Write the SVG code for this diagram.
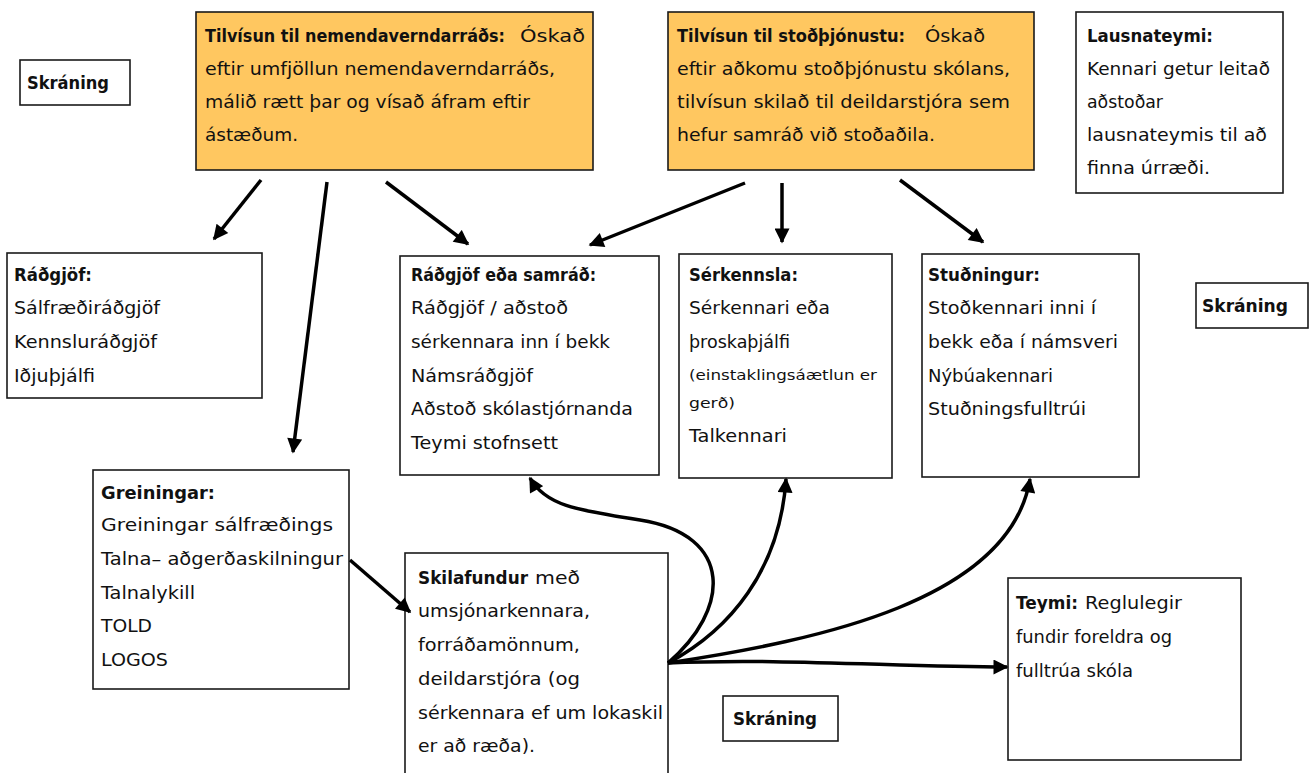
<svg xmlns="http://www.w3.org/2000/svg" width="1310" height="773" viewBox="0 0 1310 773">
<style>
.box{fill:#fff;stroke:#1a1a1a;stroke-width:1.6}
.org{fill:#FFC760;stroke:#1a1a1a;stroke-width:1.6}
text{font-family:"DejaVu Sans","Liberation Sans",sans-serif;font-size:17px;fill:#111}
.b{font-weight:bold}
.sm{font-size:14px}
.c{fill:none;stroke:#000;stroke-width:3.5;marker-end:url(#ah)}
</style>
<defs>
<marker id="ah" viewBox="0 0 10 10" refX="9" refY="5" markerWidth="17" markerHeight="15" markerUnits="userSpaceOnUse" orient="auto"><path d="M0,0 L10,5 L0,10 z" fill="#000"/></marker>
</defs>
<g id="skraning1"><rect class="box" x="20" y="60" width="110" height="45"/><text class="b" x="27" y="89" textLength="82" lengthAdjust="spacingAndGlyphs">Skráning</text></g>
<g id="tilvisun-nvr"><rect class="org" x="196" y="12" width="397" height="158"/>
<text class="b" x="205" y="42" textLength="300" lengthAdjust="spacingAndGlyphs">Tilvísun til nemendaverndarráðs:</text>
<text x="520" y="42" textLength="65" lengthAdjust="spacingAndGlyphs">Óskað</text>
<text x="205" y="75" textLength="350" lengthAdjust="spacingAndGlyphs">eftir umfjöllun nemendaverndarráðs,</text>
<text x="205" y="108" textLength="325" lengthAdjust="spacingAndGlyphs">málið rætt þar og vísað áfram eftir</text>
<text x="205" y="141" textLength="93" lengthAdjust="spacingAndGlyphs">ástæðum.</text></g>
<g id="tilvisun-stod"><rect class="org" x="668" y="12" width="366" height="158"/>
<text class="b" x="677" y="42" textLength="228" lengthAdjust="spacingAndGlyphs">Tilvísun til stoðþjónustu:</text>
<text x="925" y="42" textLength="60" lengthAdjust="spacingAndGlyphs">Óskað</text>
<text x="677" y="75" textLength="333" lengthAdjust="spacingAndGlyphs">eftir aðkomu stoðþjónustu skólans,</text>
<text x="677" y="108" textLength="333" lengthAdjust="spacingAndGlyphs">tilvísun skilað til deildarstjóra sem</text>
<text x="677" y="141" textLength="258" lengthAdjust="spacingAndGlyphs">hefur samráð við stoðaðila.</text></g>
<g id="lausnateymi"><rect class="box" x="1076" y="12" width="207" height="181"/>
<text class="b" x="1087" y="42" textLength="126" lengthAdjust="spacingAndGlyphs">Lausnateymi:</text>
<text x="1087" y="75" textLength="183" lengthAdjust="spacingAndGlyphs">Kennari getur leitað</text>
<text x="1087" y="108" textLength="76" lengthAdjust="spacingAndGlyphs">aðstoðar</text>
<text x="1087" y="141" textLength="180" lengthAdjust="spacingAndGlyphs">lausnateymis til að</text>
<text x="1087" y="174" textLength="123" lengthAdjust="spacingAndGlyphs">finna úrræði.</text></g>
<g id="radgjof"><rect class="box" x="7" y="253" width="255" height="145"/>
<text class="b" x="14" y="281" textLength="78" lengthAdjust="spacingAndGlyphs">Ráðgjöf:</text>
<text x="14" y="314" textLength="146" lengthAdjust="spacingAndGlyphs">Sálfræðiráðgjöf</text>
<text x="14" y="348" textLength="143" lengthAdjust="spacingAndGlyphs">Kennsluráðgjöf</text>
<text x="14" y="382" textLength="81" lengthAdjust="spacingAndGlyphs">Iðjuþjálfi</text></g>
<g id="radgjof-samrad"><rect class="box" x="400" y="256" width="259" height="219"/>
<text class="b" x="411" y="281" textLength="185" lengthAdjust="spacingAndGlyphs">Ráðgjöf eða samráð:</text>
<text x="411" y="314" textLength="157" lengthAdjust="spacingAndGlyphs">Ráðgjöf / aðstoð</text>
<text x="411" y="348" textLength="199" lengthAdjust="spacingAndGlyphs">sérkennara inn í bekk</text>
<text x="411" y="382" textLength="122" lengthAdjust="spacingAndGlyphs">Námsráðgjöf</text>
<text x="411" y="415" textLength="222" lengthAdjust="spacingAndGlyphs">Aðstoð skólastjórnanda</text>
<text x="411" y="449" textLength="147" lengthAdjust="spacingAndGlyphs">Teymi stofnsett</text></g>
<g id="serkennsla"><rect class="box" x="679" y="254" width="213" height="224"/>
<text class="b" x="689" y="281" textLength="109" lengthAdjust="spacingAndGlyphs">Sérkennsla:</text>
<text x="689" y="314" textLength="141" lengthAdjust="spacingAndGlyphs">Sérkennari eða</text>
<text x="689" y="348" textLength="101" lengthAdjust="spacingAndGlyphs">þroskaþjálfi</text>
<text class="sm" x="689" y="380" textLength="188" lengthAdjust="spacingAndGlyphs">(einstaklingsáætlun er</text>
<text class="sm" x="689" y="408" textLength="46" lengthAdjust="spacingAndGlyphs">gerð)</text>
<text x="689" y="442" textLength="98" lengthAdjust="spacingAndGlyphs">Talkennari</text></g>
<g id="studningur"><rect class="box" x="922" y="254" width="217" height="223"/>
<text class="b" x="928" y="281" textLength="112" lengthAdjust="spacingAndGlyphs">Stuðningur:</text>
<text x="928" y="314" textLength="168" lengthAdjust="spacingAndGlyphs">Stoðkennari inni í</text>
<text x="928" y="348" textLength="190" lengthAdjust="spacingAndGlyphs">bekk eða í námsveri</text>
<text x="928" y="382" textLength="125" lengthAdjust="spacingAndGlyphs">Nýbúakennari</text>
<text x="928" y="415" textLength="158" lengthAdjust="spacingAndGlyphs">Stuðningsfulltrúi</text></g>
<g id="skraning2"><rect class="box" x="1196" y="283" width="112" height="45"/><text class="b" x="1202" y="312" textLength="86" lengthAdjust="spacingAndGlyphs">Skráning</text></g>
<g id="greiningar"><rect class="box" x="93" y="470" width="256" height="219"/>
<text class="b" x="101" y="499" textLength="114" lengthAdjust="spacingAndGlyphs">Greiningar:</text>
<text x="101" y="531" textLength="232" lengthAdjust="spacingAndGlyphs">Greiningar sálfræðings</text>
<text x="101" y="565" textLength="242" lengthAdjust="spacingAndGlyphs">Talna– aðgerðaskilningur</text>
<text x="101" y="599" textLength="94" lengthAdjust="spacingAndGlyphs">Talnalykill</text>
<text x="101" y="632" textLength="51" lengthAdjust="spacingAndGlyphs">TOLD</text>
<text x="101" y="666" textLength="67" lengthAdjust="spacingAndGlyphs">LOGOS</text></g>
<g id="skilafundur"><rect class="box" x="405" y="553" width="263" height="230"/>
<text class="b" x="418" y="584" textLength="110" lengthAdjust="spacingAndGlyphs">Skilafundur</text>
<text x="535" y="584" textLength="45" lengthAdjust="spacingAndGlyphs">með</text>
<text x="418" y="617" textLength="172" lengthAdjust="spacingAndGlyphs">umsjónarkennara,</text>
<text x="418" y="651" textLength="162" lengthAdjust="spacingAndGlyphs">forráðamönnum,</text>
<text x="418" y="685" textLength="162" lengthAdjust="spacingAndGlyphs">deildarstjóra (og</text>
<text x="418" y="719" textLength="245" lengthAdjust="spacingAndGlyphs">sérkennara ef um lokaskil</text>
<text x="418" y="752" textLength="117" lengthAdjust="spacingAndGlyphs">er að ræða).</text></g>
<g id="skraning3"><rect class="box" x="723" y="696" width="115" height="45"/><text class="b" x="733" y="725" textLength="84" lengthAdjust="spacingAndGlyphs">Skráning</text></g>
<g id="teymi"><rect class="box" x="1008" y="578" width="233" height="182"/>
<text class="b" x="1016" y="609" textLength="62" lengthAdjust="spacingAndGlyphs">Teymi:</text>
<text x="1085" y="609" textLength="97" lengthAdjust="spacingAndGlyphs">Reglulegir</text>
<text x="1016" y="643" textLength="156" lengthAdjust="spacingAndGlyphs">fundir foreldra og</text>
<text x="1016" y="677" textLength="117" lengthAdjust="spacingAndGlyphs">fulltrúa skóla</text></g>
<g id="connectors">
<path class="c" d="M261,180 L214,239"/>
<path class="c" d="M327,182 L293,452"/>
<path class="c" d="M386,182 L468,244"/>
<path class="c" d="M745,183 L590,245"/>
<path class="c" d="M782,183 L782,242"/>
<path class="c" d="M900,180 L983,242"/>
<path class="c" d="M350,560 L410,612"/>
<path class="c" d="M668,663 C730,610 735,535 640,520 C575,510 545,505 530,478"/>
<path class="c" d="M668,663 C730,630 780,570 786,479"/>
<path class="c" d="M668,663 C820,640 1010,600 1030,479"/>
<path class="c" d="M668,663 C780,658 900,667 1007,667"/>
</g>
</svg>
